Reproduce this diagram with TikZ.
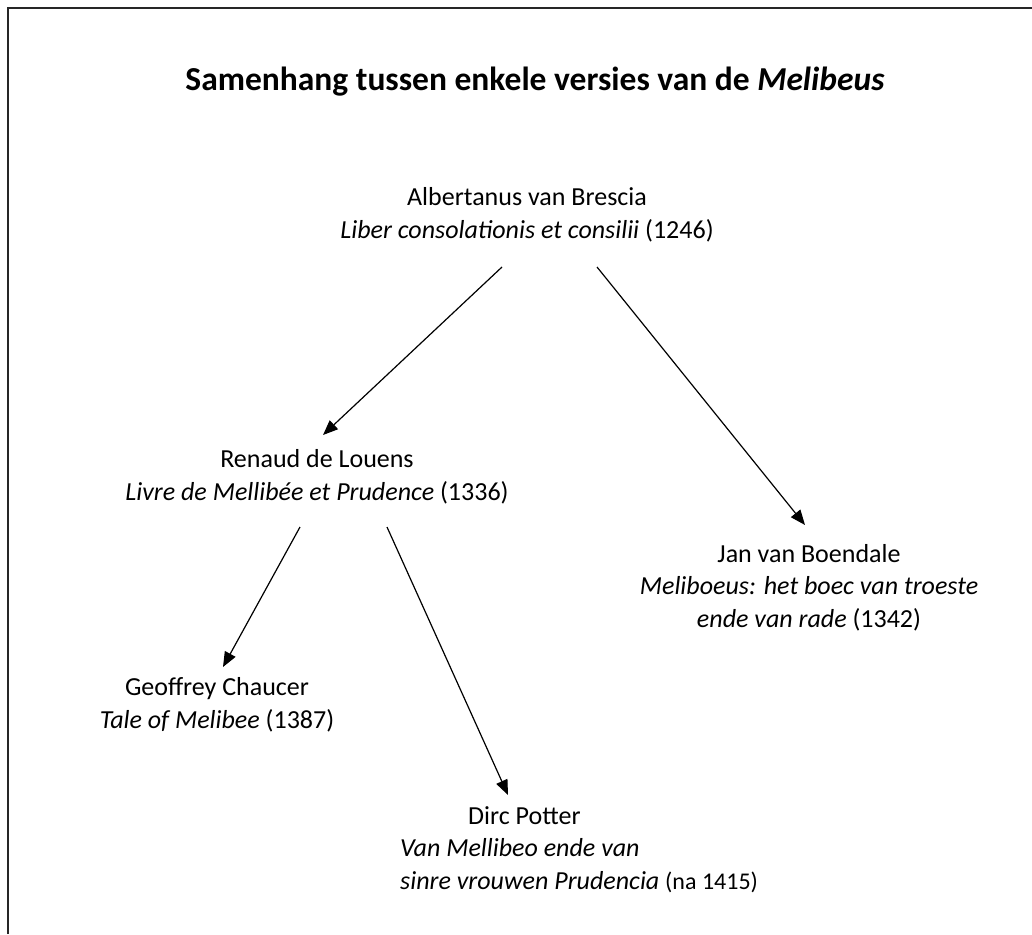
\documentclass[tikz,border=0pt]{standalone}
\usepackage{fontspec}
\setmainfont{Carlito}
\usetikzlibrary{arrows.meta,calc}

\tikzset{
  entry/.style={inner sep=0pt, anchor=base, font={\fontsize{26}{32.5}\selectfont}},
  arr/.style={-{Triangle[length=15pt,width=12pt]}, line width=1.2pt}
}

\begin{document}
\begin{tikzpicture}[x=1pt, y=-1pt]
	\useasboundingbox (0,0) rectangle (1032,934);
	\draw[line width=2pt, black!85] (8,934) -- (8,8) -- (1032,8);
	\node[inner sep=0pt, anchor=base, font={\fontsize{33.5}{40}\selectfont\bfseries}] (title) at (535,90)
		{Samenhang tussen enkele versies van de \textit{Melibeus}};
	\node[entry, align=center] (alb) at (527,238)
		{Albertanus van Brescia\\\textit{Liber consolationis et consilii} (1246)};
	\node[entry, align=center] (ren) at (317,500)
		{Renaud de Louens\\\textit{Livre de Mellib\'ee et Prudence} (1336)};
	\node[entry, align=center] (jan) at (809,627)
		{Jan van Boendale\\\textit{Meliboeus: het boec van troeste}\\\textit{ende van rade} (1342)};
	\node[entry, align=center] (cha) at (217,728)
		{Geoffrey Chaucer\\\textit{Tale of Melibee} (1387)};
	\node[entry, anchor=base west, align=left] (dir) at (400,889)
		{\hspace*{68pt}Dirc Potter\\\textit{Van Mellibeo ende van}\\\textit{sinre vrouwen Prudencia} {\fontsize{24}{32.5}\selectfont(na 1415)}};
	\draw[arr] ([shift={(-25,29)}]alb.base) -- ([shift={(6,-65)}]ren.base);
	\draw[arr] ([shift={(70,29)}]alb.base) -- ([shift={(-4,-102)}]jan.base);
	\draw[arr] ([shift={(-17,27)}]ren.base) -- ([shift={(6,-61)}]cha.base);
	\draw[arr] ([shift={(70,27)}]ren.base) -- ([shift={(108,-94)}]dir.base west);
\end{tikzpicture}
\end{document}
